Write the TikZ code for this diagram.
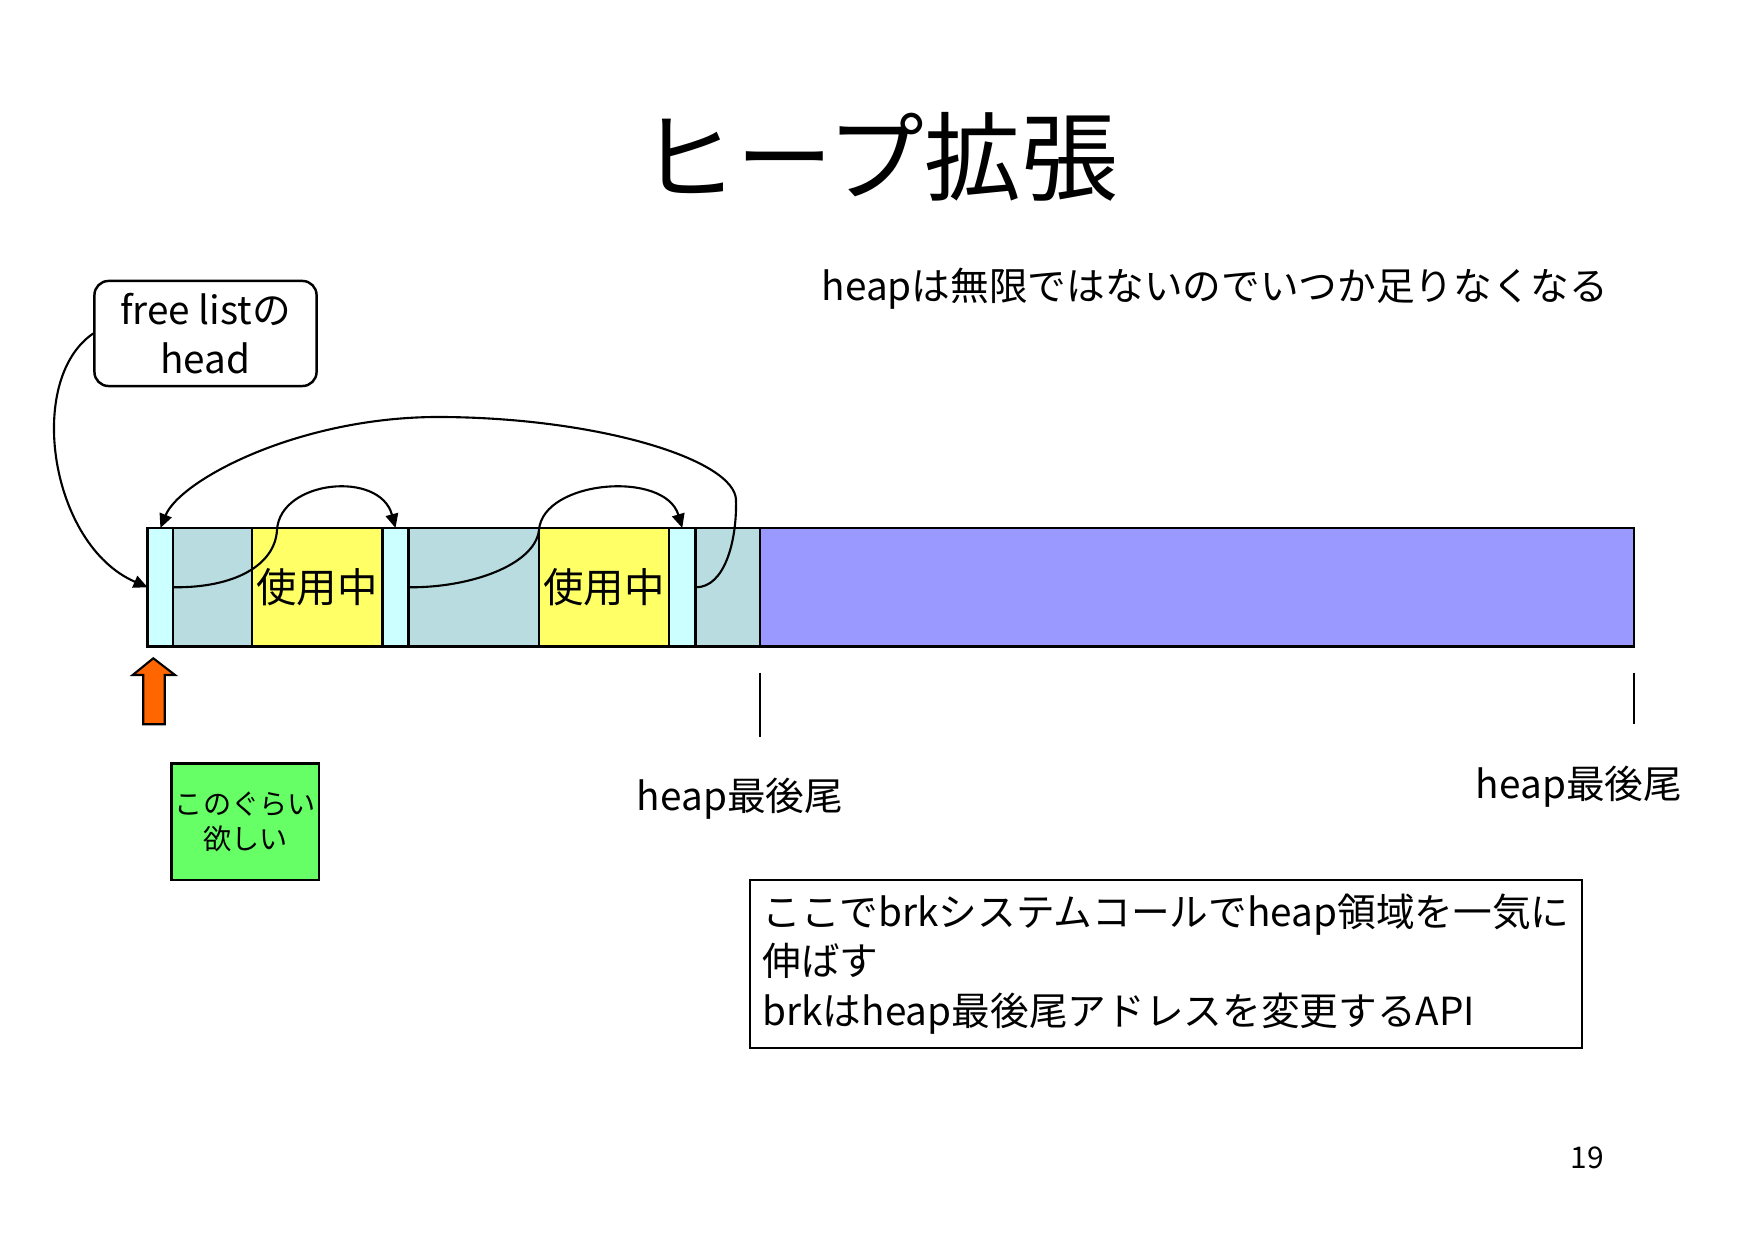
\documentclass[tikz,border=0pt]{standalone}
\usepackage{fontspec}
\setmainfont{Noto Sans CJK JP}
\usepackage{xcolor}
\usetikzlibrary{arrows.meta, positioning}

\definecolor{hdrcyan}{HTML}{CCFFFF}
\definecolor{freeteal}{HTML}{B8DCE0}
\definecolor{usedyellow}{HTML}{FFFF66}
\definecolor{topblue}{HTML}{9999FF}
\definecolor{wantgreen}{HTML}{66FF66}
\definecolor{ptrorange}{HTML}{FF6600}

\begin{document}
\begin{tikzpicture}[x=0.01cm, y=-0.01cm,
    cell/.style={draw, line width=0.7pt, inner sep=0pt, outer sep=0pt, minimum height=1.185cm},
    link/.style={-{Triangle[length=4pt,width=3.6pt]}, line width=0.6pt},
    txt/.style={font=\fontsize{11}{14}\selectfont}]

    % page
    \fill[white] (0,0) rectangle (1754,1240);

    % title and note
    \node[font=\fontsize{27.5}{32}\selectfont] (title) at (879,157) {ヒープ拡張};
    \node[txt] (note) at (1215,289) {heapは無限ではないのでいつか足りなくなる};

    % heap cells
    \node[cell, fill=hdrcyan, minimum width=0.256cm, anchor=north west] (hdr1) at (147.6,528) {};
    \node[cell, fill=freeteal, minimum width=0.785cm, right=0pt of hdr1] (free1) {};
    \node[cell, fill=usedyellow, minimum width=1.308cm, right=0pt of free1, font=\fontsize{11.5}{14}\selectfont] (used1) {使用中};
    \node[cell, fill=hdrcyan, minimum width=0.257cm, right=0pt of used1] (hdr2) {};
    \node[cell, fill=freeteal, minimum width=1.308cm, right=0pt of hdr2] (free2) {};
    \node[cell, fill=usedyellow, minimum width=1.299cm, right=0pt of free2, font=\fontsize{11.5}{14}\selectfont] (used2) {使用中};
    \node[cell, fill=hdrcyan, minimum width=0.261cm, right=0pt of used2] (hdr3) {};
    \node[cell, fill=freeteal, minimum width=0.645cm, right=0pt of hdr3] (free3) {};
    \node[cell, fill=topblue, minimum width=8.737cm, right=0pt of free3] (top) {};

    % heap end marks
    \draw[line width=0.6pt] ([yshift=-0.26cm]top.south west) -- ++(0,64.6);
    \draw[line width=0.6pt] ([yshift=-0.26cm]top.south east) -- ++(0,51.3);
    \node[txt] (endold) at (740,799) {heap最後尾};
    \node[txt] (endnew) at (1579,787) {heap最後尾};

    % free list head
    \node[draw, rounded corners=4pt, line width=0.7pt, minimum width=2.22cm, minimum height=1.05cm, align=center, txt] (head) at (205.5,333.5) {free listの\\head};

    % links
    \draw[link] (head.west) .. controls (25,380) and (50,545) .. (hdr1.west);
    \draw[link] (hdr1.east) .. controls (235,588) and (275,565) .. (277,530) .. controls (280,480) and (380,470) .. (hdr2.north);
    \draw[link] (hdr2.east) .. controls (470,588) and (535,565) .. (539,530) .. controls (543,480) and (665,470) .. (hdr3.north);
    \draw[link] (hdr3.east) .. controls (725,588) and (737,540) .. (736,500) .. controls (735,460) and (600,418) .. (442,417) .. controls (300,416) and (180,480) .. (hdr1.north);

    % request
    \draw[fill=ptrorange, line width=0.6pt] (153.3,658.3) -- (175,675) -- (164.7,675) -- (164.7,724.3) -- (143.3,724.3) -- (143.3,675) -- (132.7,675) -- cycle;
    \node[draw, fill=wantgreen, line width=0.7pt, inner sep=1pt, minimum width=1.44cm, minimum height=1.167cm, align=center, font=\fontsize{8}{10}\selectfont] (want) at (245.3,821.7) {このぐらい\\欲しい};

    % brk note
    \node[draw, line width=0.7pt, minimum width=8.31cm, minimum height=1.68cm, align=left, txt] (brk) at (1166,964) {ここでbrkシステムコールでheap領域を一気に\\伸ばす\\brkはheap最後尾アドレスを変更するAPI};

    \node[font=\fontsize{8.5}{10}\selectfont] (pageno) at (1587,1158) {19};
\end{tikzpicture}
\end{document}
